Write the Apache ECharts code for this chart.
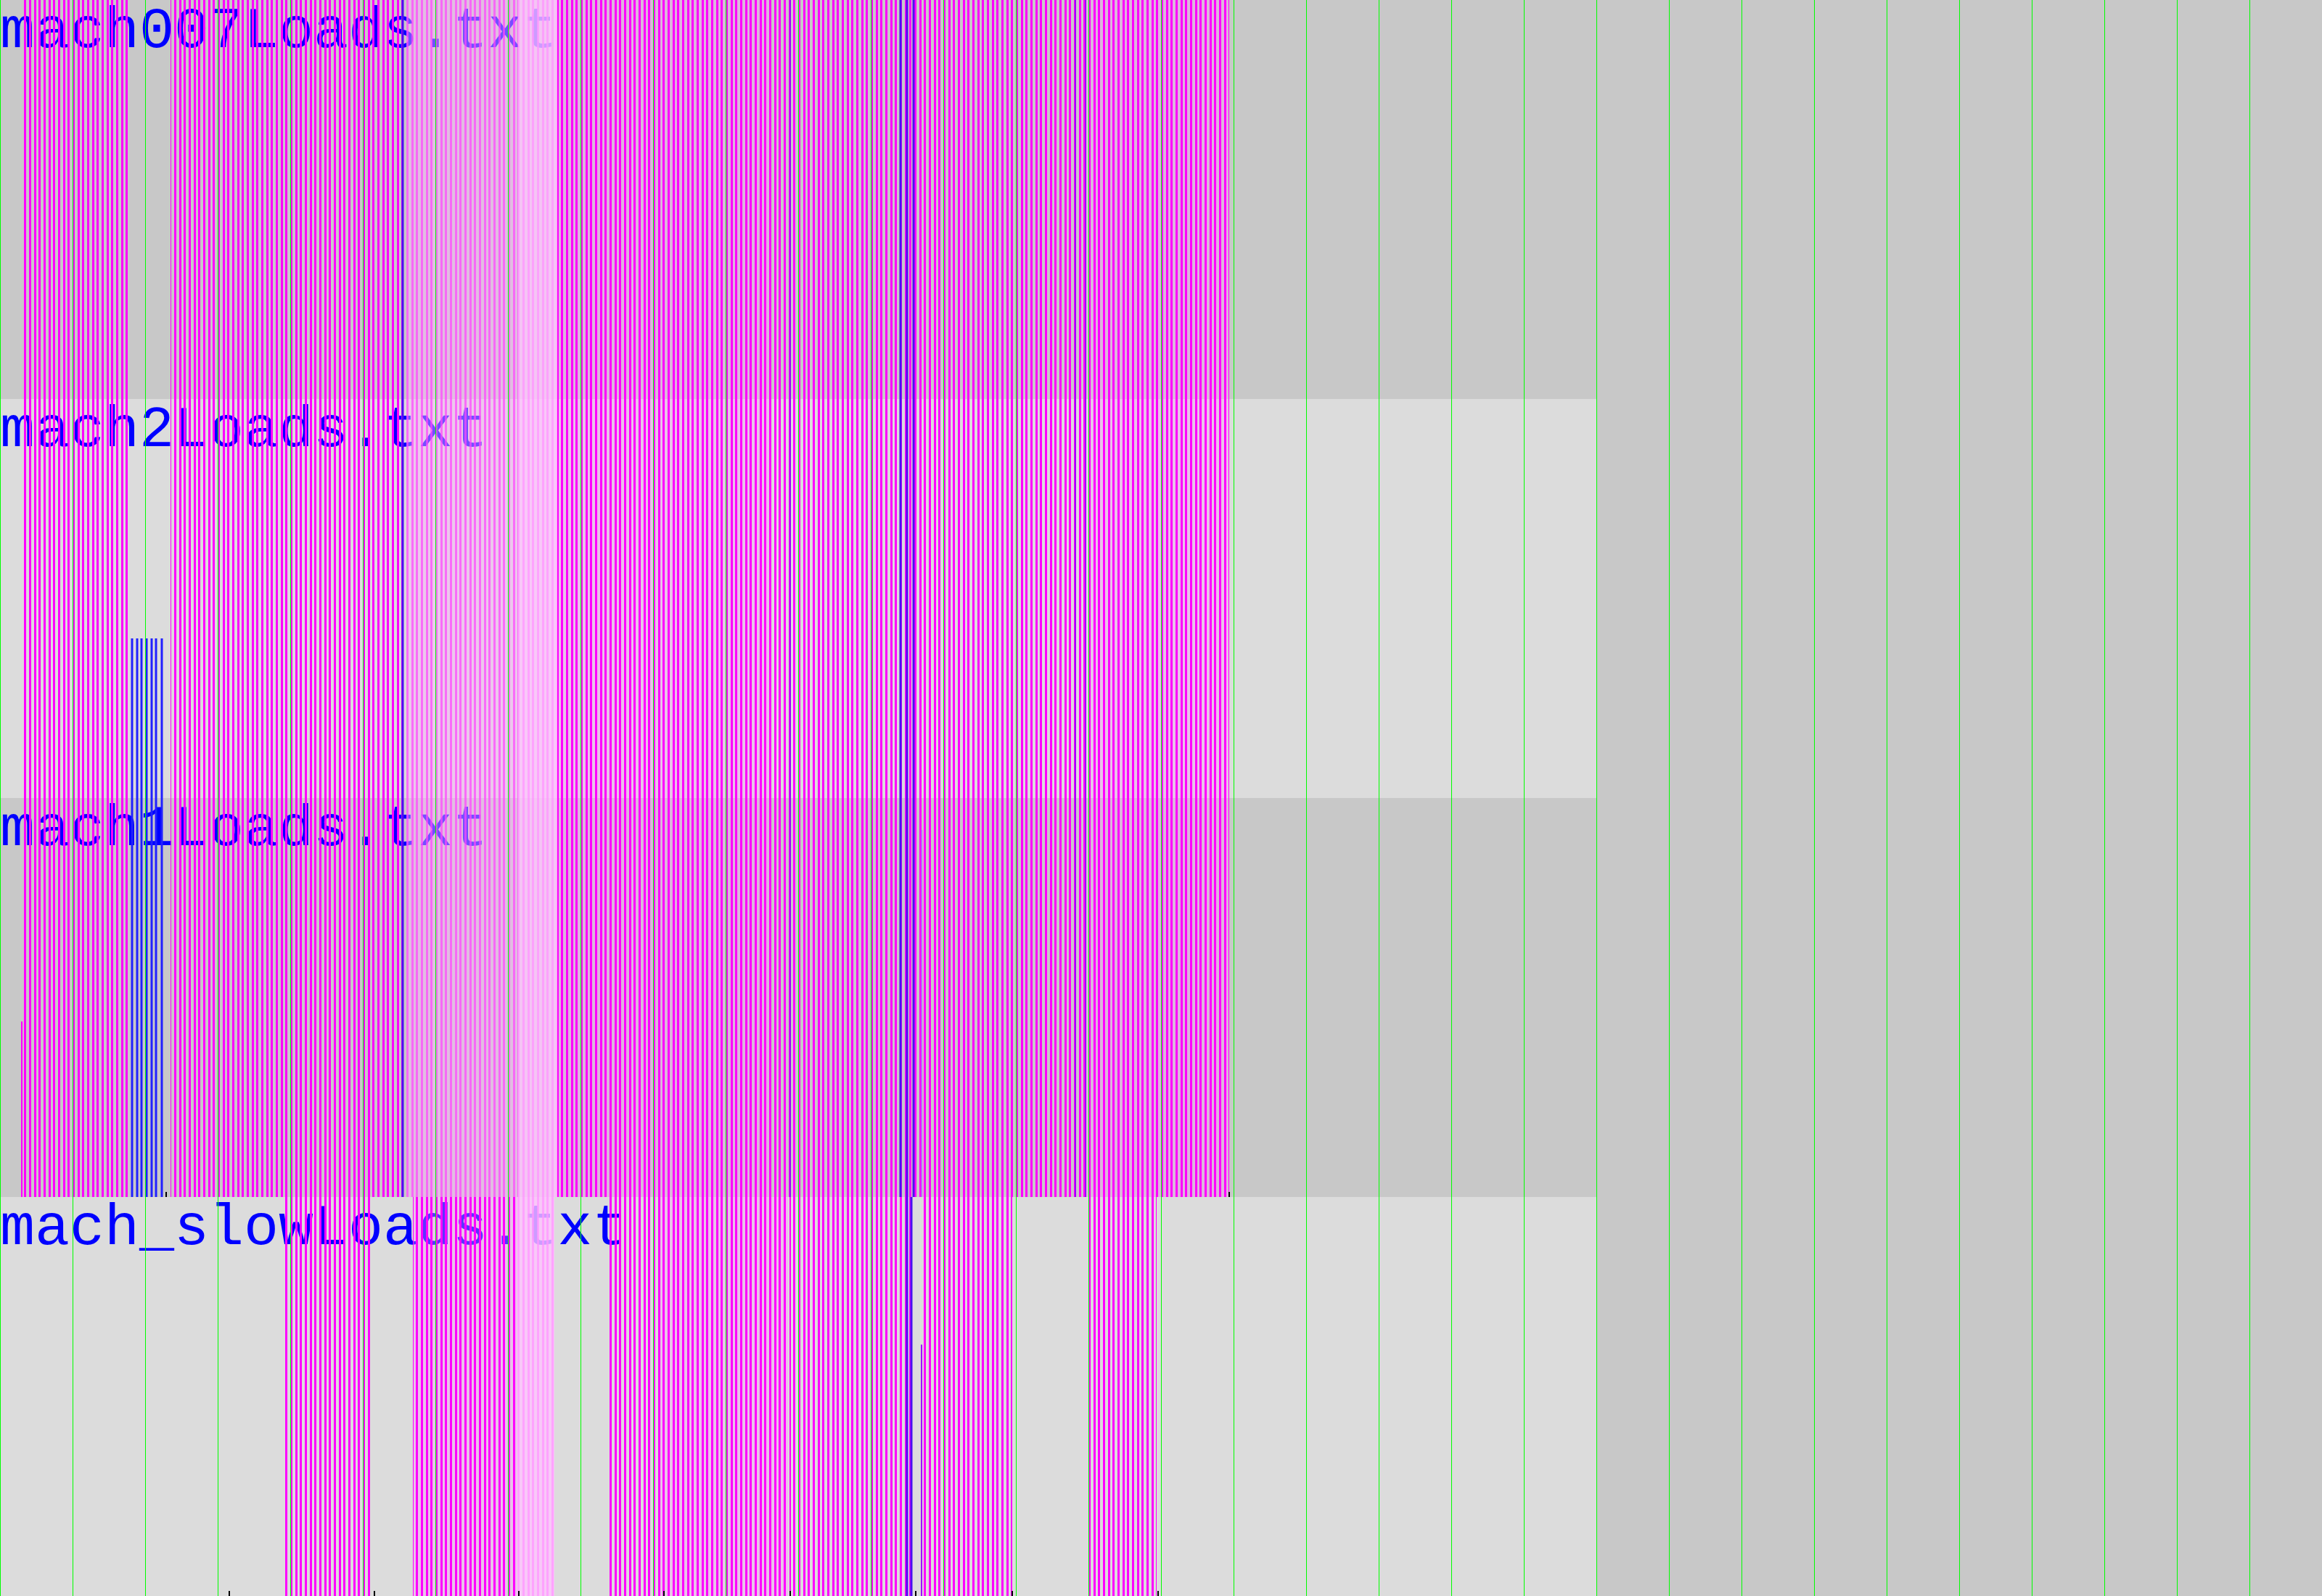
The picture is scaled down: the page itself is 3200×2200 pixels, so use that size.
<!DOCTYPE html>
<html>
<head>
<meta charset="utf-8">
<script src="https://cdn.jsdelivr.net/npm/echarts@6/dist/echarts.min.js"></script>
<style>
  html, body { margin: 0; padding: 0; background: #c8c8c8; }
  #chart { width: 3200px; height: 2200px; }
</style>
</head>
<body>
<div id="chart"></div>
<script>
// one row per load file, top to bottom
var rowNames = ['mach007Loads.txt', 'mach2Loads.txt', 'mach1Loads.txt', 'mach_slowLoads.txt'];
var bandEnds = [2200, 2200, 2200, 2200];
var bandColors = ['#c8c8c8', '#dcdcdc', '#c8c8c8', '#dcdcdc'];

// busy spans: [row, start, end, style]  style 0 strong, 1 medium, 2 faded, 3 pink
var loadBlocks = [
  [0, 33, 178, 0], [0, 235, 560, 0], [0, 560, 714, 2], [0, 714, 768, 3],
  [0, 768, 900, 1], [0, 900, 1062, 1], [0, 1062, 1499, 0], [0, 1499, 1694, 1],
  [1, 33, 178, 0], [1, 235, 560, 0], [1, 560, 714, 2], [1, 714, 768, 3],
  [1, 768, 900, 1], [1, 900, 1062, 1], [1, 1062, 1499, 0], [1, 1499, 1694, 1],
  [2, 33, 178, 0], [2, 235, 560, 0], [2, 560, 714, 2], [2, 714, 768, 3],
  [2, 768, 900, 1], [2, 900, 1062, 1], [2, 1062, 1499, 0], [2, 1499, 1694, 1],
  [3, 393, 511, 0], [3, 569, 712, 1], [3, 712, 764, 3], [3, 840, 910, 0],
  [3, 910, 1086, 1], [3, 1088, 1256, 0], [3, 1272, 1395, 0], [3, 1501, 1594, 0]
];

// single jobs: [row, x, height as share of row, colour, width]
var jobLines = [
  [0, 555, 1, '#4a10f0', 3], [0, 1089, 1, '#a000ff', 2], [0, 1241, 1, '#4a10f0', 3], [0, 1250, 1, '#4a10f0', 3],
  [0, 1259, 1, '#4a10f0', 3], [0, 1482, 1, '#a000ff', 2], [0, 1496, 1, '#a000ff', 2],
  [1, 182, 0.4, '#2020ff', 3], [1, 189, 0.4, '#2020ff', 3], [1, 195, 0.4, '#2020ff', 3], [1, 202, 0.4, '#2020ff', 3],
  [1, 209, 0.4, '#2020ff', 3], [1, 215, 0.4, '#2020ff', 3], [1, 223, 0.4, '#2020ff', 3],
  [1, 555, 1, '#4a10f0', 3], [1, 1089, 1, '#a000ff', 2], [1, 1241, 1, '#4a10f0', 3], [1, 1250, 1, '#4a10f0', 3],
  [1, 1259, 1, '#4a10f0', 3], [1, 1482, 1, '#a000ff', 2], [1, 1496, 1, '#a000ff', 2],
  [2, 30, 0.44, '#ff00ff', 2],
  [2, 182, 1, '#2020ff', 3], [2, 189, 1, '#2020ff', 3], [2, 195, 1, '#2020ff', 3], [2, 202, 1, '#2020ff', 3],
  [2, 209, 1, '#2020ff', 3], [2, 215, 1, '#2020ff', 3], [2, 223, 1, '#2020ff', 3],
  [2, 555, 1, '#4a10f0', 3], [2, 1089, 1, '#a000ff', 2], [2, 1241, 1, '#4a10f0', 3], [2, 1250, 1, '#4a10f0', 3],
  [2, 1259, 1, '#4a10f0', 3], [2, 1270, 0.92, '#c060ff', 2], [2, 1482, 1, '#a000ff', 2], [2, 1496, 1, '#a000ff', 2],
  [3, 1250, 1, '#4a10f0', 3], [3, 1256, 1, '#4a10f0', 3], [3, 1270, 0.63, '#a000ff', 2]
];

// little black marks on the bottom edge of a row
var endTicks = [
  [2, 229], [2, 1694],
  [3, 316], [3, 516], [3, 715], [3, 915], [3, 1089], [3, 1262], [3, 1395], [3, 1596]
];

function makeStripes(stripe, bg) {
  var c = document.createElement('canvas');
  c.width = 20;
  c.height = 4;
  var ctx = c.getContext('2d');
  if (bg) {
    ctx.fillStyle = bg;
    ctx.fillRect(0, 0, 20, 4);
  }
  ctx.fillStyle = stripe;
  [0, 7, 13].forEach(function (x) {
    ctx.fillRect(x, 0, 3, 4);
  });
  return { image: c, repeat: 'repeat' };
}

var fills = [
  makeStripes('#ff00ff', null),
  makeStripes('#ff00ff', 'rgba(255,150,255,0.35)'),
  makeStripes('rgba(255,70,255,0.7)', 'rgba(255,175,255,0.45)'),
  makeStripes('rgba(255,150,255,0.75)', 'rgba(255,195,255,0.8)')
];

var chart = echarts.init(document.getElementById('chart'));

var option = {
  backgroundColor: '#c8c8c8',
  animation: false,
  grid: { left: 0, right: 0, top: 0, bottom: 0 },
  xAxis: {
    type: 'value',
    min: 0,
    max: 3200,
    interval: 100,
    z: 10,
    axisLine: { show: false },
    axisTick: { show: false },
    axisLabel: { show: false },
    splitLine: { show: true, lineStyle: { color: '#00ff00', width: 1 } }
  },
  yAxis: {
    type: 'value',
    min: 0,
    max: 4,
    inverse: true,
    axisLine: { show: true, lineStyle: { color: '#2a7a2a', width: 2 } },
    axisTick: { show: false },
    axisLabel: { show: false },
    splitLine: { show: false }
  },
  series: [
    {
      name: 'bands',
      type: 'custom',
      z: 0,
      silent: true,
      data: rowNames.map(function (n, i) { return [i, 0, bandEnds[i]]; }),
      renderItem: function (params, api) {
        var row = api.value(0);
        var a = api.coord([api.value(1), row]);
        var b = api.coord([api.value(2), row + 1]);
        return {
          type: 'rect',
          shape: { x: a[0], y: a[1], width: b[0] - a[0], height: b[1] - a[1] },
          style: { fill: bandColors[params.dataIndex] }
        };
      }
    },
    {
      name: 'labels',
      type: 'custom',
      z: 1,
      silent: true,
      data: rowNames.map(function (n, i) { return [0, i]; }),
      renderItem: function (params, api) {
        var p = api.coord([api.value(0), api.value(1)]);
        return {
          type: 'text',
          x: p[0],
          y: p[1] + 4,
          style: {
            text: rowNames[params.dataIndex],
            fill: '#0000ff',
            font: '80px "Liberation Mono", monospace',
            align: 'left',
            verticalAlign: 'top'
          }
        };
      }
    },
    {
      name: 'loads',
      type: 'custom',
      z: 2,
      silent: true,
      data: loadBlocks,
      renderItem: function (params, api) {
        var row = api.value(0);
        var a = api.coord([api.value(1), row]);
        var b = api.coord([api.value(2), row + 1]);
        return {
          type: 'rect',
          shape: { x: a[0], y: a[1], width: b[0] - a[0], height: b[1] - a[1] },
          style: { fill: fills[loadBlocks[params.dataIndex][3]] }
        };
      }
    },
    {
      name: 'jobs',
      type: 'custom',
      z: 3,
      silent: true,
      data: jobLines,
      renderItem: function (params, api) {
        var row = api.value(0);
        var x = api.value(1);
        var a = api.coord([x, row + 1]);
        var b = api.coord([x, row + 1 - api.value(2)]);
        var item = jobLines[params.dataIndex];
        return {
          type: 'line',
          shape: { x1: a[0], y1: a[1], x2: b[0], y2: b[1] },
          style: { stroke: item[3], lineWidth: item[4] }
        };
      }
    },
    {
      name: 'ticks',
      type: 'custom',
      z: 4,
      silent: true,
      data: endTicks,
      renderItem: function (params, api) {
        var a = api.coord([api.value(1), api.value(0) + 1]);
        return {
          type: 'line',
          shape: { x1: a[0], y1: a[1], x2: a[0], y2: a[1] - 7 },
          style: { stroke: '#000000', lineWidth: 2 }
        };
      }
    }
  ]
};

chart.setOption(option);
</script>
</body>
</html>
